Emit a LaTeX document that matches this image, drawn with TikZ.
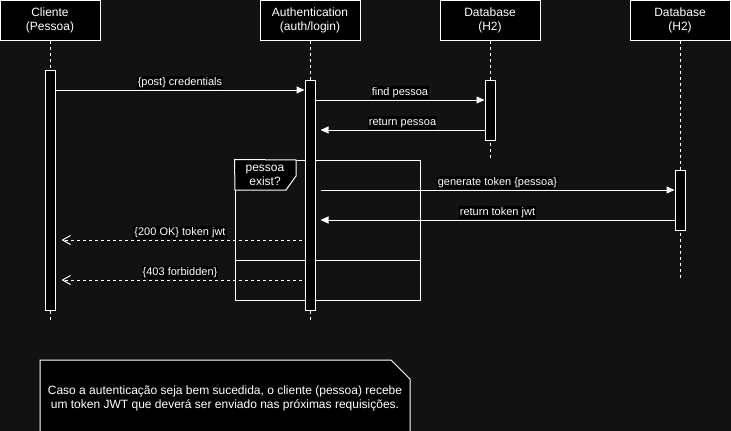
\documentclass[tikz,border=0pt]{standalone}
\usepackage{fontspec}
\setmainfont{Liberation Sans}
\usetikzlibrary{arrows.meta}
\definecolor{bg}{HTML}{121212}

\begin{document}
\begin{tikzpicture}[x=1pt, y=-1pt, line width=1pt,
  actor/.style={draw=white, fill=black, text=white, minimum width=100pt,
    minimum height=40pt, inner sep=0pt, align=center,
    font=\fontsize{12}{14}\selectfont},
  bar/.style={draw=white, fill=black, minimum width=10pt, inner sep=0pt},
  life/.style={draw=white, dash pattern=on 3pt off 3pt},
  msg/.style={draw=white, -{Triangle[length=8pt,width=7pt]}},
  reply/.style={draw=white, dash pattern=on 3pt off 3pt,
    -{Straight Barb[length=8pt,width=9pt]}},
  lbl/.style={fill=black, text=white, inner sep=1pt, text height=8.5pt,
    text depth=2.5pt, font=\fontsize{11}{13}\selectfont, midway, yshift=8pt},
  plain/.style={text=white, align=center, font=\fontsize{12}{14}\selectfont}]

  % canvas
  \fill[bg] (0,0) rectangle (731,431);
  \useasboundingbox (0,0) rectangle (731,431);
  \clip (0,0) rectangle (731,431);

  % participants
  \node[actor] (cli) at (50,20)  {Cliente\\(Pessoa)};
  \node[actor] (auth) at (310,20) {Authentication\\(auth/login)};
  \node[actor] (db1) at (490,20) {Database\\(H2)};
  \node[actor] (db2) at (680,20) {Database\\(H2)};

  % lifelines
  \coordinate (cliEnd) at (50,320);
  \coordinate (authEnd) at (310,320);
  \coordinate (db1End) at (490,160);
  \coordinate (db2End) at (680,280);
  \draw[life] (cli.south) -- (cliEnd);
  \draw[life] (auth.south) -- (authEnd);
  \draw[life] (db1.south) -- (db1End);
  \draw[life] (db2.south) -- (db2End);

  % alt fragment
  \node[draw=white, minimum width=185pt, minimum height=140pt, inner sep=0pt]
    (alt) at (327.5,230) {};
  \draw[white] (alt.west |- 0,260) -- (alt.east |- 0,260);
  \filldraw[draw=white, fill=black] (alt.north west) -- (296,160) -- (296,176)
    -- (286,190) -- (235,190) -- cycle;
  \node[plain] (cond) at (265,175.5) {pessoa\\exist?};

  % activation bars
  \node[bar, minimum height=240pt] (actC) at (50,190) {};
  \node[bar, minimum height=230pt] (actA) at (310,195) {};
  \node[bar, minimum height=60pt] (actD1) at (490,110) {};
  \node[bar, minimum height=60pt] (actD2) at (680,200) {};

  % messages
  \draw[msg] (actC.east |- 0,90) -- node[lbl] {\{post\} credentials} (actA.west |- 0,90);
  \draw[msg] (actA.east |- 0,100) -- node[lbl] {find pessoa} (actD1.west |- 0,100);
  \draw[msg, shorten >=5pt] (actD1.west |- 0,130) -- node[lbl, xshift=2.5pt] {return pessoa} (actA.east |- 0,130);
  \draw[msg, shorten <=5pt] (actA.east |- 0,190) -- node[lbl, xshift=2.5pt] {generate token \{pessoa\}} (actD2.west |- 0,190);
  \draw[msg, shorten >=5pt] (actD2.west |- 0,220) -- node[lbl, xshift=2.5pt] {return token jwt} (actA.east |- 0,220);
  \draw[reply, shorten <=3pt, shorten >=6pt] (actA.west |- 0,240) -- node[lbl] {\{200 OK\} token jwt} (actC.east |- 0,240);
  \draw[reply, shorten <=3pt, shorten >=6pt] (actA.west |- 0,280) -- node[lbl] {\{403 forbidden\}} (actC.east |- 0,280);

  % note
  \filldraw[draw=white, fill=black] (40,360) -- (391,360) -- (410,379)
    -- (410,440) -- (40,440) -- cycle;
  \node[plain] (note) at (225,398) {Caso a autenticação seja bem sucedida, o cliente (pessoa) recebe\\um token JWT que deverá ser enviado nas próximas requisições.};
\end{tikzpicture}
\end{document}
